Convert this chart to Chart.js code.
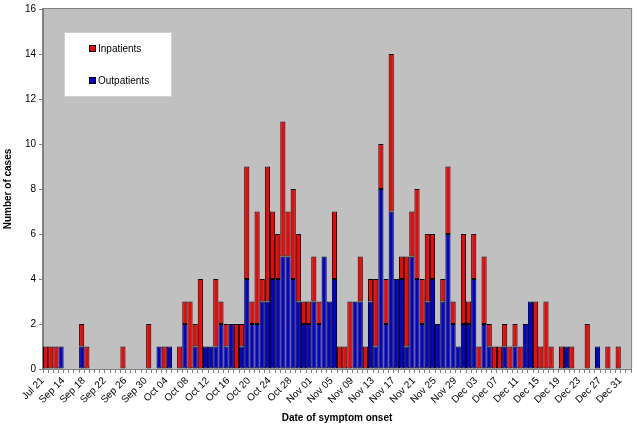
<!DOCTYPE html>
<html>
<head>
  <meta charset="UTF-8">
  <title>Cases by date of symptom onset</title>
  <script src="https://cdn.jsdelivr.net/npm/chart.js"></script>
  <style>
    body { margin: 0; background: #fff; }
    #wrap { width: 639px; height: 427px; }
  </style>
</head>
<body>
  <div id="wrap"><canvas id="onsetChart" width="639" height="427"></canvas></div>

  <script>
    // Categories: one per day (Jul 21, then Sep 11 to Jan 01)
    const dates = ['Jul 21',
      'Sep 11','Sep 12','Sep 13','Sep 14','Sep 15','Sep 16','Sep 17','Sep 18','Sep 19','Sep 20',
      'Sep 21','Sep 22','Sep 23','Sep 24','Sep 25','Sep 26','Sep 27','Sep 28','Sep 29','Sep 30',
      'Oct 01','Oct 02','Oct 03','Oct 04','Oct 05','Oct 06','Oct 07','Oct 08','Oct 09','Oct 10',
      'Oct 11','Oct 12','Oct 13','Oct 14','Oct 15','Oct 16','Oct 17','Oct 18','Oct 19','Oct 20',
      'Oct 21','Oct 22','Oct 23','Oct 24','Oct 25','Oct 26','Oct 27','Oct 28','Oct 29','Oct 30','Oct 31',
      'Nov 01','Nov 02','Nov 03','Nov 04','Nov 05','Nov 06','Nov 07','Nov 08','Nov 09','Nov 10',
      'Nov 11','Nov 12','Nov 13','Nov 14','Nov 15','Nov 16','Nov 17','Nov 18','Nov 19','Nov 20',
      'Nov 21','Nov 22','Nov 23','Nov 24','Nov 25','Nov 26','Nov 27','Nov 28','Nov 29','Nov 30',
      'Dec 01','Dec 02','Dec 03','Dec 04','Dec 05','Dec 06','Dec 07','Dec 08','Dec 09','Dec 10',
      'Dec 11','Dec 12','Dec 13','Dec 14','Dec 15','Dec 16','Dec 17','Dec 18','Dec 19','Dec 20',
      'Dec 21','Dec 22','Dec 23','Dec 24','Dec 25','Dec 26','Dec 27','Dec 28','Dec 29','Dec 30','Dec 31',
      'Jan 01'];

    // Cases per day
    const outpatients = [
      0,0,0,1,0,0,0,1,0,0,
      0,0,0,0,0,0,0,0,0,0,
      0,0,1,0,1,0,0,2,0,1,
      0,1,1,1,2,1,2,0,1,4,
      2,2,3,3,4,4,5,5,4,3,
      2,2,3,2,5,3,4,0,0,0,
      3,3,0,3,1,8,2,7,4,4,
      1,5,4,2,3,4,2,3,6,2,
      1,2,2,4,0,2,1,0,0,1,
      0,1,0,2,3,0,0,0,0,0,
      0,1,0,0,0,0,0,1,0,0,
      0,0,0,0];
    const inpatients = [
      1,1,1,0,0,0,0,1,1,0,
      0,0,0,0,0,1,0,0,0,0,
      2,0,0,1,0,0,1,1,3,1,
      4,0,0,3,1,1,0,2,1,5,
      1,5,1,6,3,2,6,2,4,3,
      1,1,2,1,0,0,3,1,1,3,
      0,2,1,1,3,2,2,7,0,1,
      4,2,4,2,3,2,0,1,3,1,
      0,4,1,2,1,3,1,1,1,1,
      1,1,1,0,0,3,1,3,1,0,
      1,0,1,0,0,2,0,0,0,1,
      0,1,0,0];

    const yTicks = [0, 2, 4, 6, 8, 10, 12, 14, 16];

    Chart.defaults.font.family = 'Arial, "Liberation Sans", sans-serif';
    Chart.defaults.font.size = 10;
    Chart.defaults.color = '#000';

    // Grey plot area with a thin border, like the old Excel style
    const plotBackground = {
      id: 'plotBackground',
      beforeDraw(chart) {
        const { ctx, chartArea: a } = chart;
        ctx.save();
        ctx.fillStyle = '#C0C0C0';
        ctx.fillRect(a.left, a.top, a.right - a.left, a.bottom - a.top);
        ctx.restore();
      },
      afterDraw(chart) {
        const { ctx, chartArea: a } = chart;
        ctx.save();
        ctx.strokeStyle = '#808080';
        ctx.lineWidth = 1;
        ctx.strokeRect(a.left - 0.5, a.top - 0.5, a.right - a.left + 1, a.bottom - a.top + 1);
        ctx.restore();
      }
    };

    // Legend box drawn inside the plot area (top left)
    const boxLegend = {
      id: 'boxLegend',
      afterDraw(chart) {
        const ctx = chart.ctx;
        const ds = chart.data.datasets;
        ctx.save();
        ctx.fillStyle = '#fff';
        ctx.fillRect(64, 32, 108, 65);
        ctx.strokeStyle = '#d0d0d0';
        ctx.lineWidth = 1;
        ctx.strokeRect(64.5, 32.5, 107, 64);
        const items = [ { d: ds[1], y: 49 }, { d: ds[0], y: 81 } ];
        ctx.font = '10px Arial, "Liberation Sans", sans-serif';
        ctx.textBaseline = 'middle';
        items.forEach(it => {
          ctx.fillStyle = it.d.backgroundColor;
          ctx.fillRect(89, it.y - 3, 6, 6);
          ctx.strokeStyle = '#000';
          ctx.strokeRect(89.5, it.y - 3.5, 6, 6);
          ctx.fillStyle = '#000';
          ctx.fillText(it.d.label, 98, it.y);
        });
        ctx.restore();
      }
    };

    const ctx = document.getElementById('onsetChart').getContext('2d');
    new Chart(ctx, {
      type: 'bar',
      data: {
        labels: dates,
        datasets: [
          { label: 'Outpatients', data: outpatients, backgroundColor: '#0000DD' },
          { label: 'Inpatients', data: inpatients, backgroundColor: '#FF0000' }
        ]
      },
      options: {
        responsive: false,
        animation: false,
        layout: { padding: { top: 7, right: 3, left: 0, bottom: 0 } },
        datasets: {
          bar: {
            barPercentage: 1,
            categoryPercentage: 1,
            borderWidth: 1,
            borderColor: '#000',
            borderSkipped: false,
            inflateAmount: 0
          }
        },
        plugins: {
          legend: { display: false },
          tooltip: { enabled: false }
        },
        scales: {
          x: {
            stacked: true,
            grid: { display: true, drawOnChartArea: false, tickLength: 4, color: '#808080', offset: true },
            border: { color: '#808080' },
            ticks: {
              autoSkip: false,
              maxRotation: 45,
              minRotation: 45,
              padding: 2,
              labelOffset: -3,
              callback: function (val, i) { return i % 4 === 0 ? this.getLabelForValue(val) : ''; }
            },
            title: { display: true, text: 'Date of symptom onset', font: { weight: 'bold', size: 10 }, padding: { top: 2, bottom: 3 } },
            afterFit: s => { s.height = 58; }
          },
          y: {
            stacked: true,
            min: yTicks[0],
            max: yTicks[yTicks.length - 1],
            grid: { display: true, drawOnChartArea: false, tickLength: 4, color: '#808080' },
            border: { color: '#808080' },
            afterBuildTicks: s => { s.ticks = yTicks.map(v => ({ value: v })); },
            ticks: { padding: 3 },
            title: { display: true, text: 'Number of cases', font: { weight: 'bold', size: 10 }, padding: { top: 2, bottom: 2 } },
            afterFit: s => { s.width = 43; }
          }
        }
      },
      plugins: [plotBackground, boxLegend]
    });
  </script>
</body>
</html>
